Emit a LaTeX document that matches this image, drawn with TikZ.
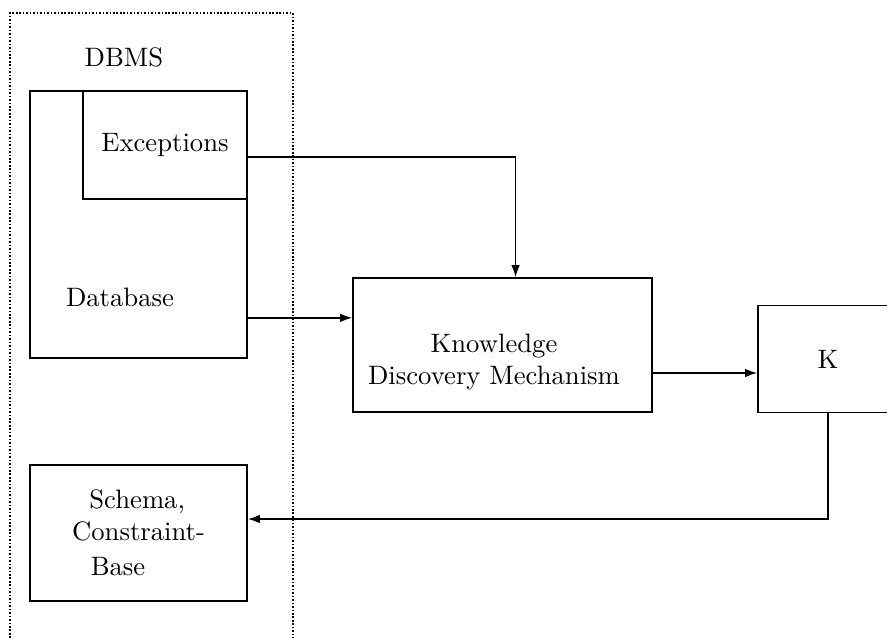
\documentclass[tikz,border=0pt]{standalone}
\usepackage{tikz}
\usetikzlibrary{arrows.meta,positioning}
\tikzset{%
    box/.style={%
        draw, shape=rectangle, line width=0.6pt, inner sep=0pt
    },
    flow/.style={%
        line width=0.6pt, -{Latex[length=4.5pt,width=3.2pt]}
    }
}

\begin{document}
\begin{tikzpicture}[x=0.375pt, y=-0.375pt]
    \clip (0,0) rectangle (887,638);

    \node[box, minimum width=81.4pt, minimum height=100.1pt] (db) at (138.5,224.5) {};
    \node[box, fill=white, minimum width=61.5pt, minimum height=40.5pt] (exc) at (165,145) {Exceptions};
    \node[box, minimum width=81.4pt, minimum height=51pt, align=left] (schema) at (138.5,533)
        {\hspace*{6.5pt}Schema,\\Constraint-\\[1pt]\hspace*{7pt}Base};
    \node[box, minimum width=112.1pt, minimum height=50.25pt] (kdm) at (502.5,345) {};
    \node[box, minimum width=52.5pt, minimum height=40.1pt] (k) at (828,359) {K};

    \node (dbms) at (124,57) {DBMS};
    \node (dbtext) at (120,297) {Database};
    \node[align=center] (kdmtext) at (494,362) {Knowledge\\Discovery Mechanism};

    % DBMS boundary
    \draw[line width=0.6pt, dash pattern=on 0.6pt off 0.7pt] (10,638) -- (10,13) -- (293,13) -- (293,638);

    \draw[flow] ([yshift=-4.5pt]exc.east) -| ([xshift=4.9pt]kdm.north);
    \draw[flow] ([yshift=-35pt]db.east) -- ([yshift=-35pt]db.east -| kdm.west);
    \draw[flow] ([yshift=-10.5pt]kdm.east) -- ([yshift=-10.5pt]kdm.east -| k.west);
    \draw[flow] (k.south) |- ([yshift=5.25pt]schema.east);
\end{tikzpicture}
\end{document}
